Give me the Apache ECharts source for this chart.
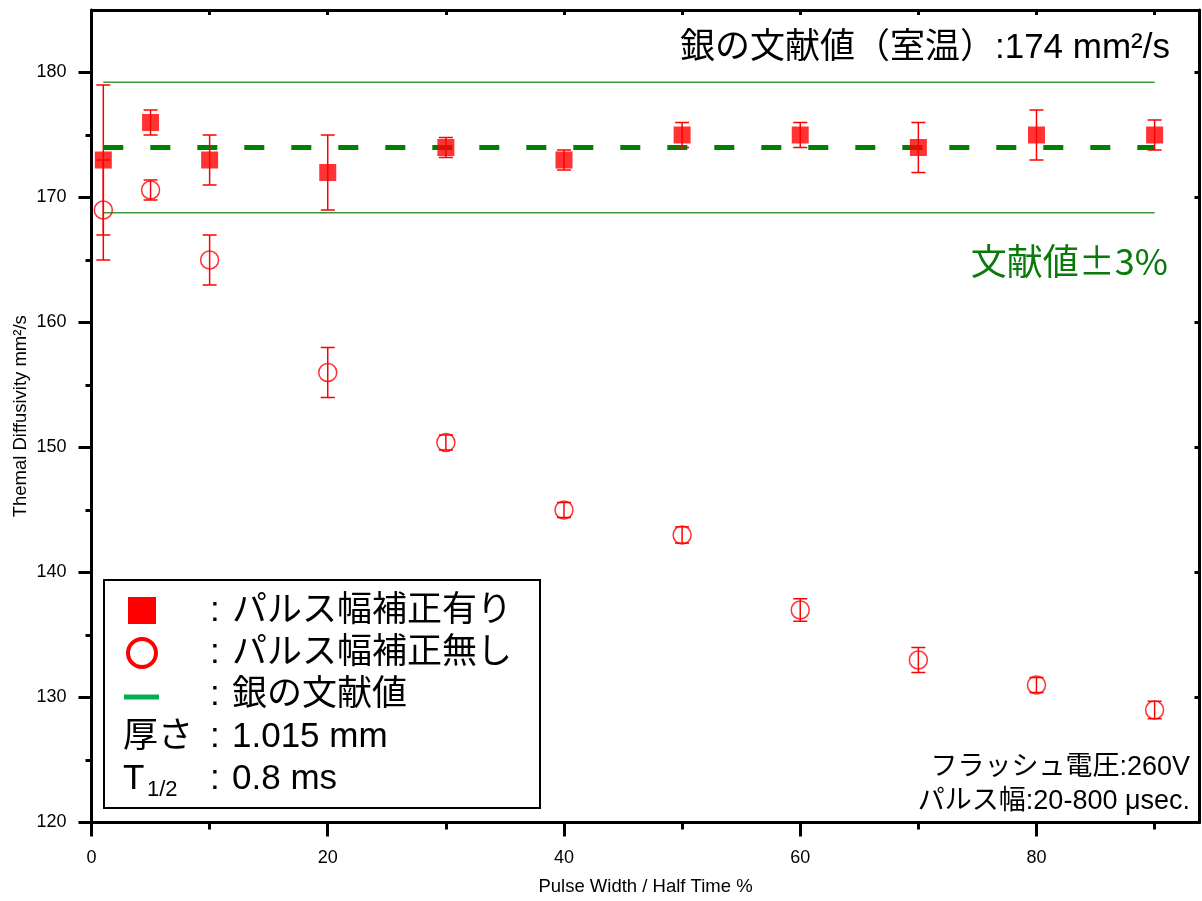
<!DOCTYPE html>
<html><head><meta charset="utf-8">
<script src="https://cdn.jsdelivr.net/npm/echarts@6/dist/echarts.min.js"></script>
<style>html,body{margin:0;padding:0;background:#fff}#c{width:1202px;height:901px}</style>
</head><body><div id="c"></div>
<script>
// ---- data ----
const xMajorTicks = [0, 20, 40, 60, 80];
const xMinorTicks = [10, 30, 50, 70, 90];
const xTopTicks = [10, 20, 30, 40, 50, 60, 70, 80, 90];
const yMajorTicks = [120, 130, 140, 150, 160, 170, 180];
const yMinorTicks = [125, 135, 145, 155, 165, 175];
const yRightTicks = [130, 140, 150, 160, 170, 180];
const xRange = [0, 93.8];
const yRange = [120, 185];

const pulseX = [1, 5, 10, 20, 30, 40, 50, 60, 70, 80, 90];
const corrected = [173, 176, 173, 172, 174, 173, 175, 175, 174, 175, 175];
const correctedErr = [6, 1, 2, 3, 0.8, 0.8, 1, 1, 2, 2, 1.2];
const uncorrected = [169, 170.6, 165, 156, 150.4, 145, 143, 137, 133, 131, 129];
const uncorrectedErr = [4, 0.8, 2, 2, 0.6, 0.6, 0.65, 0.9, 1, 0.6, 0.7];

const literatureValue = 174;
const literatureLow = 168.78;
const literatureHigh = 179.22;
const refLineX = [1, 90];

const FONT = '"Liberation Sans","Noto Sans CJK JP",Arial,sans-serif';
const CJKFONT = '"Noto Sans CJK JP","Liberation Sans",sans-serif';

function errRender(params, api) {
  const x = api.value(0), lo = api.value(1), hi = api.value(2);
  const pLo = api.coord([x, lo]), pHi = api.coord([x, hi]);
  const w = 7;
  const st = { stroke: '#ff0000', lineWidth: 1.5 };
  return { type: 'group', children: [
    { type: 'line', shape: { x1: pLo[0], y1: pLo[1], x2: pHi[0], y2: pHi[1] }, style: st },
    { type: 'line', shape: { x1: pLo[0] - w, y1: pLo[1], x2: pLo[0] + w, y2: pLo[1] }, style: st },
    { type: 'line', shape: { x1: pHi[0] - w, y1: pHi[1], x2: pHi[0] + w, y2: pHi[1] }, style: st }
  ]};
}

const axLine = { show: true, onZero: false, lineStyle: { color: '#000', width: 3 } };
const tickStyle = { color: '#000', width: 3 };

function txt(x, y, text, size, color, align, family) {
  return { type: 'text', x: x, y: y, z: 100, style: {
    text: text, fontSize: size, fontFamily: family || FONT, fill: color || '#000',
    align: align || 'left', textAlign: align || 'left',
    verticalAlign: 'middle', textVerticalAlign: 'middle'
  }};
}

const chart = echarts.init(document.getElementById('c'));
chart.setOption({
  animation: false,
  backgroundColor: '#fff',
  grid: { left: 91.5, right: 2.5, top: 10, bottom: 77 },
  xAxis: [
    { type: 'value', position: 'bottom', min: xRange[0], max: xRange[1],
      axisLine: axLine,
      axisTick: { show: true, customValues: xMajorTicks, length: 14, lineStyle: tickStyle },
      axisLabel: { customValues: xMajorTicks, fontSize: 18, color: '#000', margin: 27, fontFamily: FONT },
      splitLine: { show: false },
      name: 'Pulse Width / Half Time %', nameLocation: 'middle', nameGap: 55, nameMoveOverlap: false,
      nameTextStyle: { fontSize: 18.5, color: '#000', fontFamily: FONT } },
    { type: 'value', position: 'bottom', min: xRange[0], max: xRange[1],
      axisLine: { show: false, onZero: false },
      axisTick: { show: true, customValues: xMinorTicks, length: 7, lineStyle: tickStyle },
      axisLabel: { show: false }, splitLine: { show: false } },
    { type: 'value', position: 'top', min: xRange[0], max: xRange[1],
      axisLine: axLine,
      axisTick: { show: true, inside: true, customValues: xTopTicks, length: 5, lineStyle: tickStyle },
      axisLabel: { show: false }, splitLine: { show: false } }
  ],
  yAxis: [
    { type: 'value', position: 'left', min: yRange[0], max: yRange[1],
      axisLine: axLine,
      axisTick: { show: true, customValues: yMajorTicks, length: 13, lineStyle: tickStyle },
      axisLabel: { customValues: yMajorTicks, fontSize: 18, color: '#000', margin: 25, fontFamily: FONT },
      splitLine: { show: false },
      name: 'Themal Diffusivity mm²/s', nameLocation: 'middle', nameGap: 61, nameRotate: 90, nameMoveOverlap: false,
      nameTextStyle: { fontSize: 18.5, color: '#000', fontFamily: FONT } },
    { type: 'value', position: 'left', min: yRange[0], max: yRange[1],
      axisLine: { show: false, onZero: false },
      axisTick: { show: true, customValues: yMinorTicks, length: 6, lineStyle: tickStyle },
      axisLabel: { show: false }, splitLine: { show: false } },
    { type: 'value', position: 'right', min: yRange[0], max: yRange[1],
      axisLine: axLine,
      axisTick: { show: true, inside: true, customValues: yRightTicks, length: 5, lineStyle: tickStyle },
      axisLabel: { show: false }, splitLine: { show: false } }
  ],
  series: [
    { type: 'line', symbol: 'none', silent: true, z: 1,
      data: refLineX.map(x => [x, literatureHigh]),
      lineStyle: { color: '#3a9a3a', width: 1.5 } },
    { type: 'line', symbol: 'none', silent: true, z: 1,
      data: refLineX.map(x => [x, literatureLow]),
      lineStyle: { color: '#3a9a3a', width: 1.5 } },
    { type: 'line', symbol: 'none', silent: true, z: 2,
      data: refLineX.map(x => [x, literatureValue]),
      lineStyle: { color: '#008000', width: 5, type: [20, 27], cap: 'butt' } },
    { type: 'custom', z: 3, renderItem: errRender, encode: { x: 0, y: [1, 2] },
      data: pulseX.map((x, i) => [x, uncorrected[i] - uncorrectedErr[i], uncorrected[i] + uncorrectedErr[i]]) },
    { type: 'custom', z: 3, renderItem: errRender, encode: { x: 0, y: [1, 2] },
      data: pulseX.map((x, i) => [x, corrected[i] - correctedErr[i], corrected[i] + correctedErr[i]]) },
    { type: 'scatter', z: 4, symbol: 'circle', symbolSize: 18,
      itemStyle: { color: 'rgba(0,0,0,0)', borderColor: '#ff0000', borderWidth: 1.5 },
      data: pulseX.map((x, i) => [x, uncorrected[i]]) },
    { type: 'scatter', z: 5, symbol: 'rect', symbolSize: 17,
      itemStyle: { color: '#ff0000' },
      data: pulseX.map((x, i) => [x, corrected[i]]) }
  ],
  graphic: [
    { type: 'rect', z: 90, shape: { x: 104, y: 580, width: 436, height: 228 },
      style: { fill: '#fff', stroke: '#000', lineWidth: 2 } },
    { type: 'rect', z: 100, shape: { x: 128, y: 597, width: 28, height: 27 }, style: { fill: '#ff0000' } },
    { type: 'circle', z: 100, shape: { cx: 142, cy: 653, r: 14 }, style: { fill: 'none', stroke: '#ff0000', lineWidth: 4 } },
    { type: 'line', z: 100, shape: { x1: 124, y1: 697, x2: 159, y2: 697 }, style: { stroke: '#00b050', lineWidth: 5 } },
    txt(210, 611, ':', 35), txt(232, 611, 'パルス幅補正有り', 35),
    txt(210, 653, ':', 35), txt(232, 653, 'パルス幅補正無し', 35),
    txt(210, 695, ':', 35), txt(232, 695, '銀の文献値', 35),
    txt(123, 737, '厚さ', 35), txt(210, 737, ':', 35), txt(232, 737, '1.015 mm', 35),
    txt(123, 779, 'T', 35), txt(147, 790, '1/2', 22), txt(210, 779, ':', 35), txt(232, 779, '0.8 ms', 35),
    txt(1170, 48, '銀の文献値（室温）:174 mm²/s', 35, '#000', 'right'),
    txt(1168, 261, '文献値±3%', 36, '#0a7a0a', 'right', CJKFONT),
    txt(1190, 768, 'フラッシュ電圧:260V', 27, '#000', 'right'),
    txt(1190, 802, 'パルス幅:20-800 μsec.', 27, '#000', 'right')
  ]
});
</script></body></html>
